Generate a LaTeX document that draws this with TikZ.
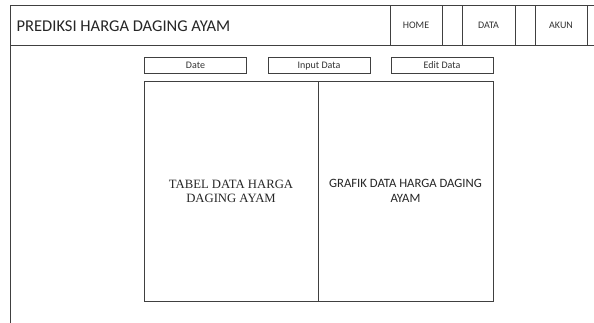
\documentclass[tikz,border=0pt]{standalone}
\usepackage{fontspec}
\setmainfont{Carlito}
\newfontfamily\tabserif{Liberation Serif}
\tikzset{
  frame/.style={draw=black!75, line width=0.9pt},
  cell/.style={frame, rectangle, inner sep=0pt, minimum height=40pt, text height=0.75em, text depth=0.1em, font=\fontsize{10}{11}\selectfont, text=black!80},
  btn/.style={frame, rectangle, inner sep=0pt, minimum width=102pt, minimum height=16pt, text height=0.75em, text depth=0.1em, font=\fontsize{10}{11}\selectfont, text=black!80},
  panel/.style={frame, rectangle, inner sep=0pt, minimum height=220pt, align=center, text=black!85},
}
\begin{document}
\begin{tikzpicture}[x=1pt,y=-1pt]
\useasboundingbox (0,0) rectangle (594,323);
\fill[white] (0,0) rectangle (594,323);
% frame lines
\coordinate (tl) at (10,5);
\coordinate (tr) at (594,5);
\coordinate (hl) at (10,45);
\coordinate (hr) at (594,45);
\coordinate (bl) at (10,323);
\draw[frame] (tr) -- (tl) -- (bl);
\draw[frame] (hl) -- (hr);
% title
\node[anchor=west, inner sep=0pt, font=\fontsize{16.5}{18}\selectfont, text=black!85] (title) at (16.5,26) {PREDIKSI HARGA DAGING AYAM};
% nav cells
\node[cell, minimum width=52pt] (home) at (416,25) {HOME};
\node[cell, minimum width=20pt] (gap1) at (452,25) {};
\node[cell, minimum width=53pt] (data) at (488.5,25) {DATA};
\node[cell, minimum width=20pt] (gap2) at (525,25) {};
\node[cell, minimum width=52pt] (akun) at (561,25) {AKUN};
% buttons
\node[btn] (date) at (195.5,65.5) {Date};
\node[btn] (input) at (319,65.5) {Input Data};
\node[btn] (edit) at (442,65.5) {Edit Data};
% panels
\node[panel, minimum width=174pt, font=\tabserif\fontsize{12.7}{14}\selectfont] (tabel) at (231,191) {TABEL DATA HARGA\\DAGING AYAM};
\node[panel, minimum width=175pt, font=\fontsize{12.7}{14.5}\selectfont] (grafik) at (405.5,191) {GRAFIK DATA HARGA DAGING\\AYAM};
\end{tikzpicture}
\end{document}
